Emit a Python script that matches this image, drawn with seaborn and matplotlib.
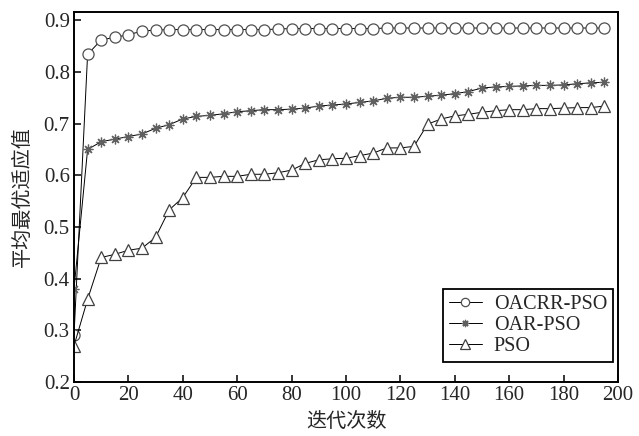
import numpy as np
import pandas as pd
import matplotlib
matplotlib.use("Agg")
import matplotlib.pyplot as plt
import seaborn as sns

iterations = [0, 5, 10, 15, 20, 25, 30, 35, 40, 45, 50, 55, 60, 65, 70, 75, 80, 85, 90, 95,
              100, 105, 110, 115, 120, 125, 130, 135, 140, 145, 150, 155, 160, 165, 170, 175,
              180, 185, 190, 195]

oacrr_pso = [0.290, 0.834, 0.862, 0.867, 0.872, 0.879, 0.881, 0.882, 0.882, 0.882,
             0.882, 0.882, 0.882, 0.882, 0.882, 0.883, 0.884, 0.884, 0.884, 0.884,
             0.884, 0.884, 0.884, 0.885, 0.885, 0.885, 0.885, 0.885, 0.885, 0.885,
             0.885, 0.885, 0.885, 0.885, 0.885, 0.885, 0.885, 0.885, 0.885, 0.885]

oar_pso = [0.380, 0.650, 0.665, 0.670, 0.675, 0.680, 0.691, 0.698, 0.709, 0.714,
           0.716, 0.719, 0.723, 0.725, 0.727, 0.727, 0.728, 0.730, 0.734, 0.736,
           0.738, 0.741, 0.744, 0.749, 0.751, 0.751, 0.753, 0.755, 0.758, 0.762,
           0.769, 0.771, 0.772, 0.773, 0.774, 0.774, 0.775, 0.777, 0.779, 0.780]

pso = [0.270, 0.360, 0.441, 0.447, 0.455, 0.459, 0.480, 0.533, 0.557, 0.596,
       0.596, 0.598, 0.598, 0.602, 0.602, 0.605, 0.610, 0.623, 0.630, 0.632,
       0.633, 0.638, 0.643, 0.653, 0.653, 0.656, 0.699, 0.709, 0.715, 0.718,
       0.722, 0.725, 0.727, 0.727, 0.729, 0.729, 0.730, 0.731, 0.731, 0.734]

series_names = ["OACRR-PSO", "OAR-PSO", "PSO"]
x_ticks = [0, 20, 40, 60, 80, 100, 120, 140, 160, 180, 200]
y_ticks = [0.2, 0.3, 0.4, 0.5, 0.6, 0.7, 0.8, 0.9]
x_label = "迭代次数"
y_label = "平均最优适应值"

sns.set_style("ticks")
plt.rcParams["font.family"] = ["Liberation Serif", "DejaVu Sans"]

fig = plt.figure(figsize=(6.39, 4.36), dpi=100)
ax = fig.add_axes([74 / 639, 1 - 382 / 436, 544 / 639, 370 / 436])

styles = [
    (oacrr_pso, "o", 8, "white", "#505050"),
    (oar_pso, (8, 2, 0), 7, "none", "#606060"),
    (pso, "^", 9, "white", "#404040"),
]
for name, (vals, mk, ms, mfc, mec) in zip(series_names, styles):
    sns.lineplot(x=iterations, y=vals, color="black", linewidth=0.7,
                 marker=mk, markersize=ms, markerfacecolor=mfc,
                 markeredgecolor=mec, markeredgewidth=0.9,
                 label=name, legend=False, ax=ax)

ax.set_xlim(0, 200)
ax.set_ylim(0.2, 0.916)
ax.set_xticks(x_ticks)
ax.set_yticks(y_ticks)
ax.set_xticklabels([str(v) for v in x_ticks])
ax.set_yticklabels([f"{v:.1f}" for v in y_ticks])
ax.tick_params(direction="in", length=5, width=1.3, labelsize=15,
               top=False, right=False, pad=3)

for side in ["left", "bottom", "top", "right"]:
    ax.spines[side].set_visible(True)
    ax.spines[side].set_color("black")
    ax.spines[side].set_linewidth(1.4)

ax.set_xlabel(x_label, family=["Noto Sans CJK SC"], fontsize=14.5, labelpad=4)
ax.set_ylabel(y_label, family=["Noto Sans CJK SC"], fontsize=14.5, labelpad=8)

leg = ax.legend(handles=ax.lines[:3], labels=series_names, loc="lower right",
                bbox_to_anchor=(0.991, 0.054), borderaxespad=0, fontsize=14.5,
                frameon=True, fancybox=False, framealpha=1, edgecolor="black",
                handlelength=1.6, handletextpad=0.6, labelspacing=0.1,
                borderpad=0.3, markerscale=0.75)
leg.get_frame().set_linewidth(1.3)

fig.savefig("out.png", dpi=100)
